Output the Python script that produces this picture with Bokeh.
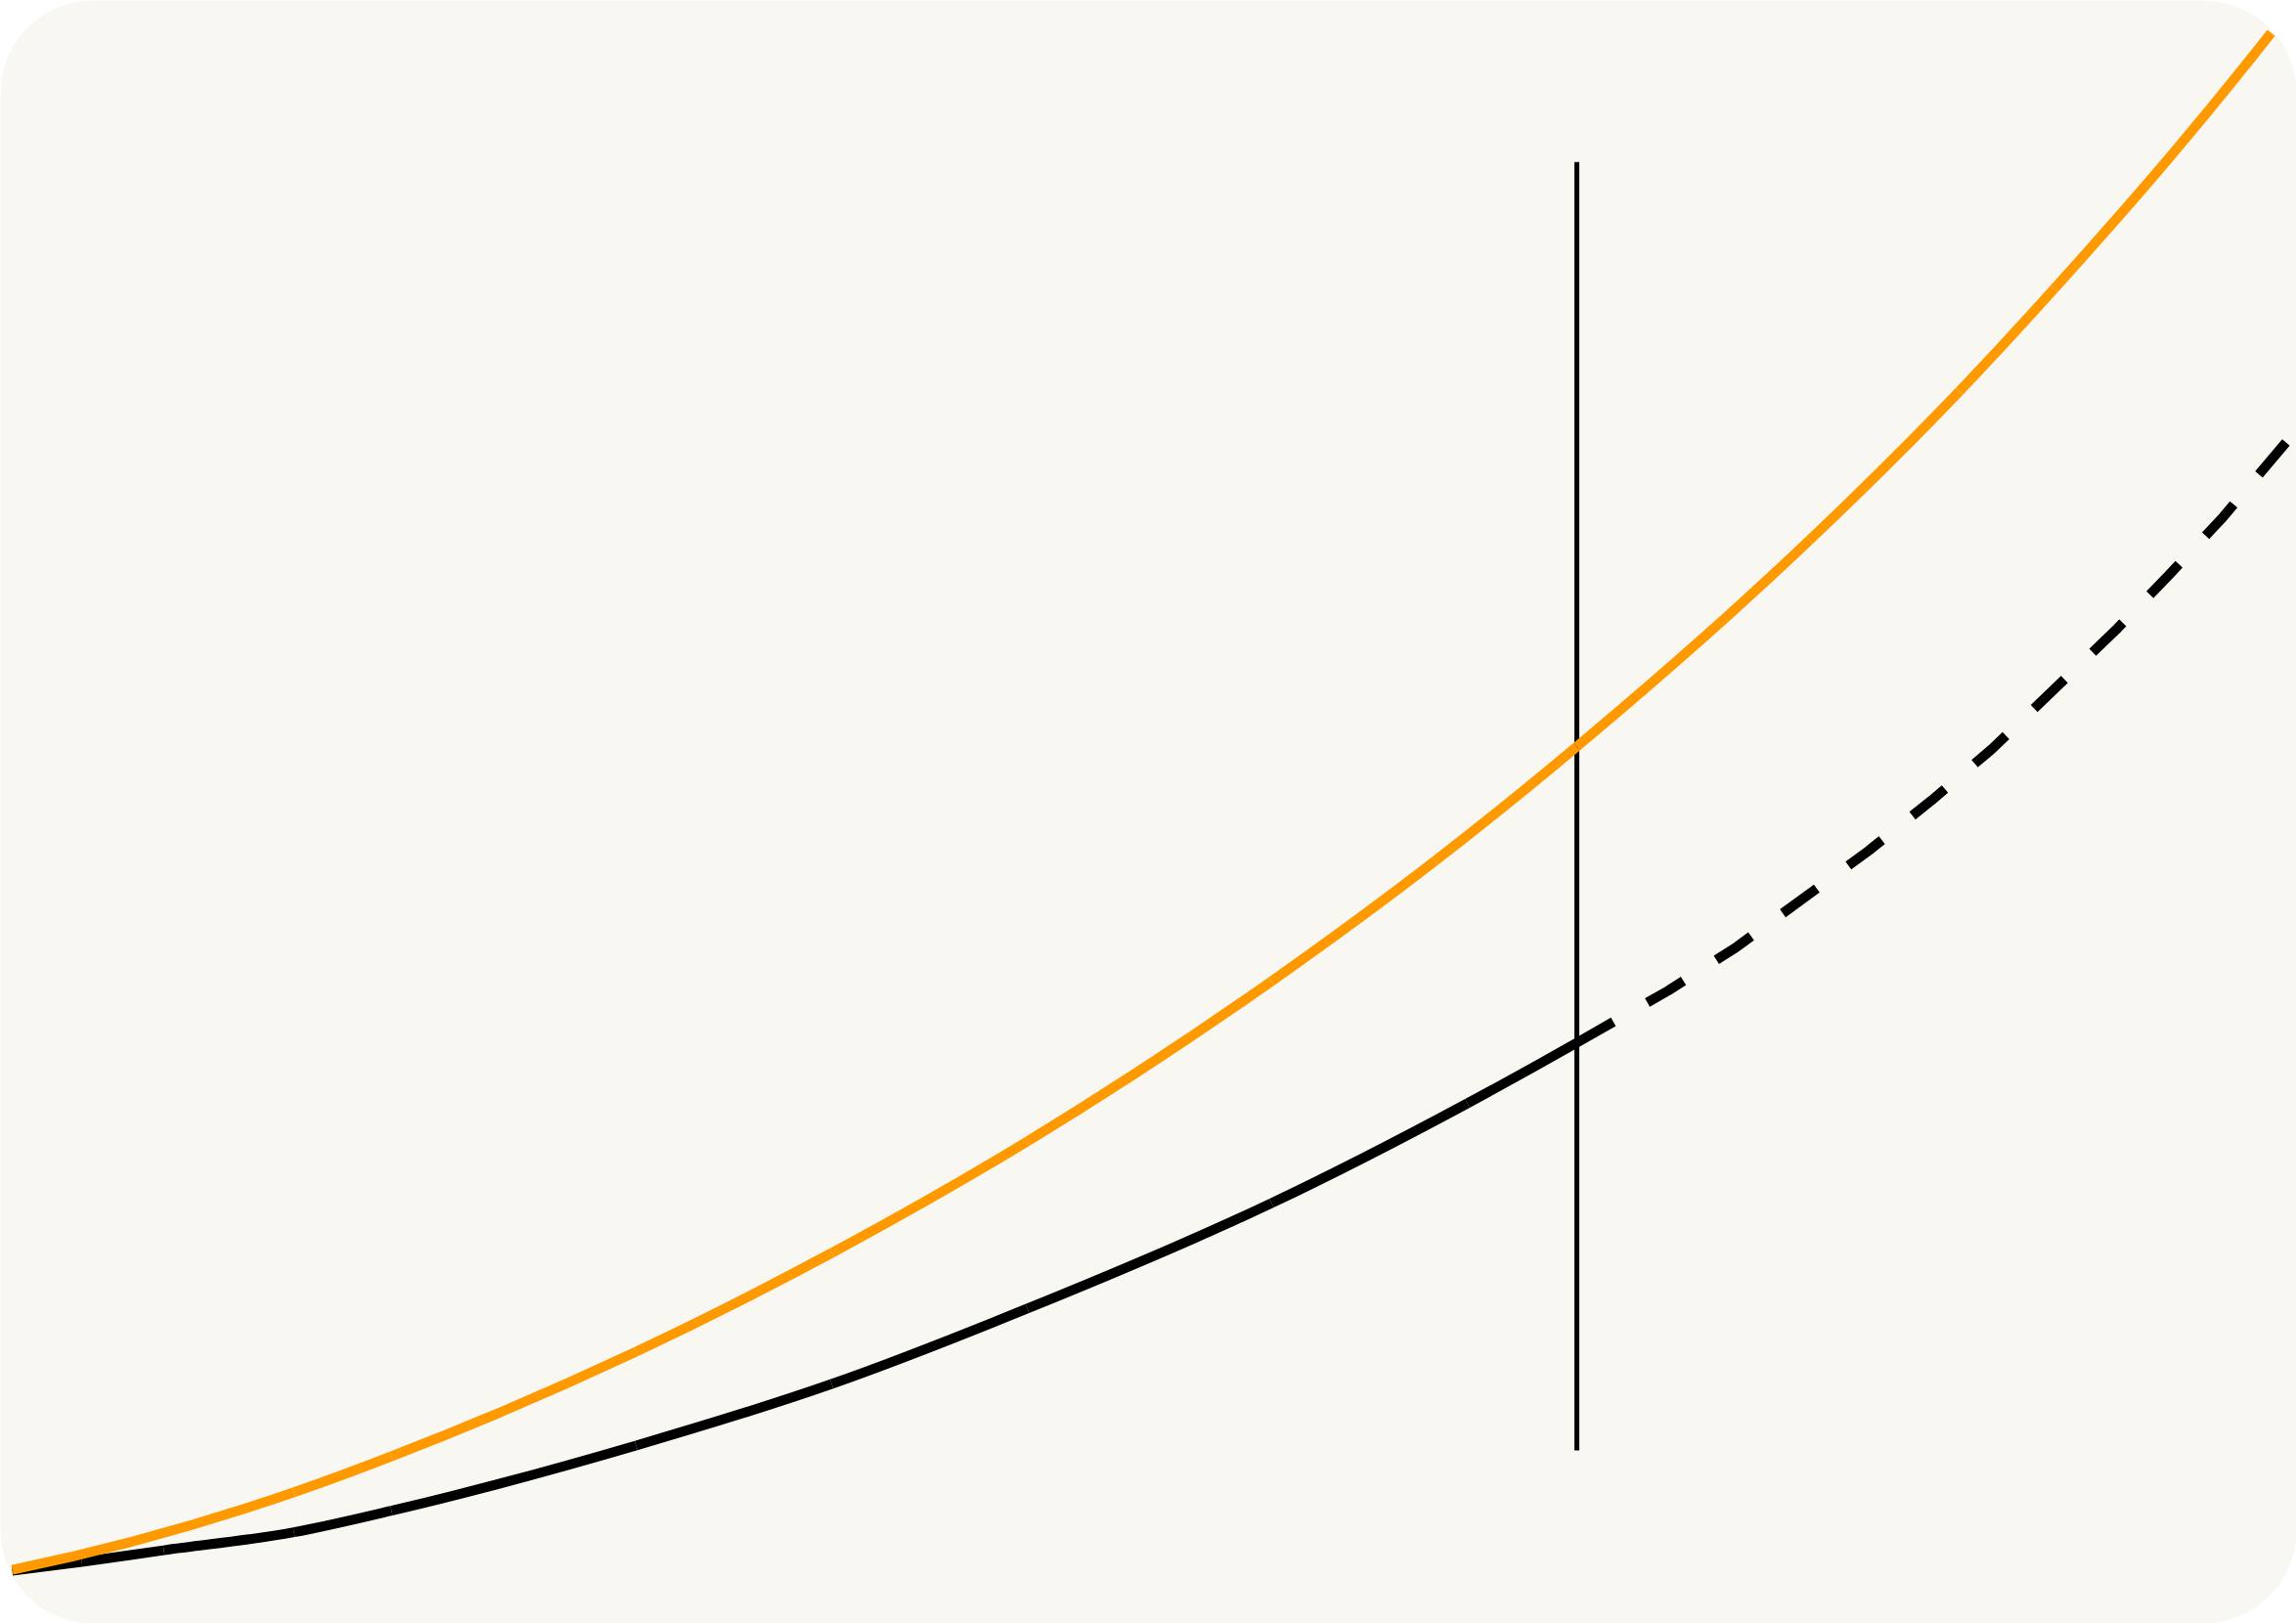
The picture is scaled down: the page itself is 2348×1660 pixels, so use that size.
import numpy as np
from bokeh.plotting import figure
from bokeh.models import Range1d, BoxAnnotation
from bokeh.embed import file_html
from bokeh.resources import INLINE

# ---- data (abstract units: x 0..100, y 0..100) ----
orange_x = [0.0, 12.36, 16.64, 27.37, 35.95, 44.53, 55.25, 62.42, 68.64, 78.85, 85.41, 89.57, 95.02, 99.10]
orange_y = [0.06, 5.10, 7.44, 14.24, 20.66, 27.91, 38.33, 46.15, 53.59, 67.01, 76.67, 83.34, 92.56, 100.0]

actual_x = [0.0, 3.05, 6.65, 12.36, 16.64, 27.37, 35.95, 44.53, 55.25, 63.84, 68.64]
actual_y = [0.0, 0.57, 1.33, 2.50, 3.90, 8.14, 12.14, 17.04, 23.90, 30.39, 34.33]

proj_x = [68.64, 72.63, 75.59, 81.42, 84.21, 86.87, 92.36, 94.64, 97.00, 100.0]
proj_y = [34.33, 37.70, 40.50, 46.79, 50.10, 53.46, 61.28, 64.78, 68.53, 73.81]

marker_x = [68.64]
marker_bottom = [7.82]
marker_top = [91.6]


def smooth_segments(xs, ys):
    """Cubic Hermite (Bezier) pieces through the given points."""
    x = np.asarray(xs, float)
    y = np.asarray(ys, float)
    h = np.diff(x)
    d = np.diff(y) / h
    n = len(x)
    m = np.zeros(n)
    for i in range(1, n - 1):
        m[i] = (h[i] * d[i - 1] + h[i - 1] * d[i]) / (h[i - 1] + h[i])
    m[0] = d[0] + (d[0] - d[1]) * h[0] / (h[0] + h[1])
    m[-1] = d[-1] + (d[-1] - d[-2]) * h[-1] / (h[-2] + h[-1])
    return dict(
        x0=x[:-1], y0=y[:-1], x1=x[1:], y1=y[1:],
        cx0=x[:-1] + h / 3, cy0=y[:-1] + m[:-1] * h / 3,
        cx1=x[1:] - h / 3, cy1=y[1:] - m[1:] * h / 3,
    )


W, H = 2348, 1660

p = figure(width=W, height=H, output_backend="svg", toolbar_location=None,
           x_axis_location=None, y_axis_location=None,
           x_range=Range1d(-0.5148, 100.21), y_range=Range1d(-3.433, 102.10),
           min_border=0, min_border_left=0, min_border_right=0,
           min_border_top=0, min_border_bottom=0)
p.xgrid.visible = False
p.ygrid.visible = False
p.outline_line_color = None
p.background_fill_color = "white"
p.border_fill_color = "white"

bg = BoxAnnotation(fill_color="#f8f7f2", fill_alpha=1.0, line_color=None,
                   border_radius=95, level="underlay")
p.add_layout(bg)

p.segment(x0=marker_x, y0=marker_bottom, x1=marker_x, y1=marker_top,
          line_color="black", line_width=5)

p.bezier(**smooth_segments(actual_x, actual_y), line_color="black", line_width=10)
p.line(proj_x, proj_y, line_color="black", line_width=10, line_dash="43 40")
p.bezier(**smooth_segments(orange_x, orange_y), line_color="#ff9900", line_width=10)

open("out.html", "w").write(file_html(p, INLINE))
